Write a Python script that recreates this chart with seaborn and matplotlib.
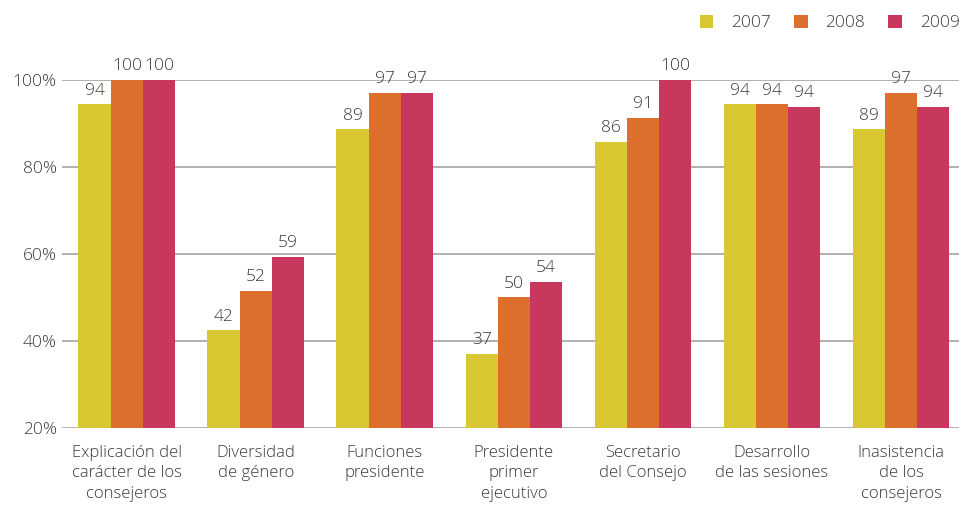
import matplotlib
matplotlib.use("Agg")
import matplotlib.pyplot as plt
import seaborn as sns
import pandas as pd

categories = ["Explicación del\ncarácter de los\nconsejeros", "Diversidad\nde género",
              "Funciones\npresidente", "Presidente\nprimer\nejecutivo",
              "Secretario\ndel Consejo", "Desarrollo\nde las sesiones",
              "Inasistencia\nde los\nconsejeros"]
years = ["2007", "2008", "2009"]
v2007 = [94.4, 42.4, 88.6, 37.0, 85.7, 94.4, 88.6]
v2008 = [100, 51.5, 97.0, 50.0, 91.3, 94.4, 97.0]
v2009 = [100, 59.3, 97.0, 53.6, 100, 93.8, 93.8]
yticks = [20, 40, 60, 80, 100]
colors = ["#D9C831", "#DC6F2C", "#C8385C"]

rows = []
for y, vals in zip(years, [v2007, v2008, v2009]):
    for c, v in zip(categories, vals):
        rows.append({"cat": c, "year": y, "value": v})
df = pd.DataFrame(rows)

sns.set_theme(style="white")
plt.rcParams["font.family"] = ["Open Sans", "DejaVu Sans"]
plt.rcParams["font.weight"] = "light"
txt = "#3A3A3A"

fig = plt.figure(figsize=(9.59, 5.15), dpi=100)
ax = fig.add_axes([0.065, 0.169, 0.935, 0.676])
sns.barplot(data=df, x="cat", y="value", hue="year", palette=colors,
            width=0.75, saturation=1, ax=ax, zorder=2, legend=True,
            linewidth=0, edgecolor="none")

ax.set_ylim(20, 100)
ax.set_xlim(-0.5, 6.45)
ax.set_yticks(yticks)
ax.set_yticklabels([f"{t}%" for t in yticks])
ax.yaxis.grid(True, color="#AAAAAA", linewidth=1.3, zorder=0)
ax.set_axisbelow(True)
for s in ax.spines.values():
    s.set_visible(False)
ax.tick_params(axis="y", length=0, pad=4, labelsize=12.5, labelcolor=txt)
ax.tick_params(axis="x", length=0, pad=12, labelsize=12, labelcolor=txt)
for lab in ax.get_xticklabels():
    lab.set_linespacing(1.4)
    lab.set_fontweight("light")
for lab in ax.get_yticklabels():
    lab.set_fontweight("light")
ax.set_xlabel("")
ax.set_ylabel("")

for cont in ax.containers:
    lbls = [f"{b.get_height():.0f}" for b in cont]
    ax.bar_label(cont, labels=lbls, padding=4, fontsize=12.5, color=txt,
                 clip_on=False, fontweight="light")

leg = ax.legend(loc="center right", bbox_to_anchor=(1.018, 1.163), ncol=3, frameon=False,
                fontsize=12.5, handlelength=0.8, handleheight=0.8, handletextpad=1.0,
                columnspacing=1.35)
for t in leg.get_texts():
    t.set_color(txt)
    t.set_fontweight("light")

fig.savefig("out.png", dpi=100)
